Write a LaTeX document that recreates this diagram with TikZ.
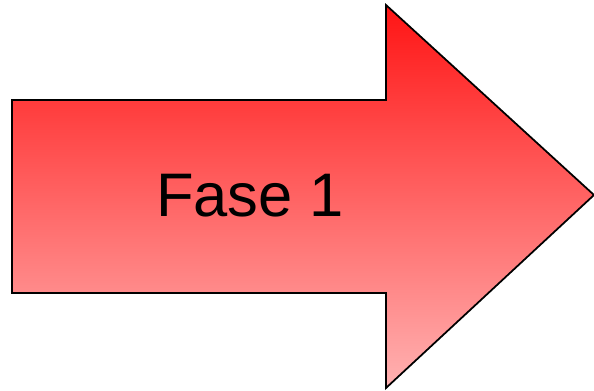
\documentclass[tikz,border=0pt]{standalone}
\usepackage{fontspec}
\setmainfont{Liberation Sans}
\usetikzlibrary{positioning}
\definecolor{arrowtop}{RGB}{255,20,20}
\definecolor{arrowbottom}{RGB}{255,178,178}
\tikzset{
  bigarrow/.style={draw=black, line width=1pt, top color=arrowtop, bottom color=arrowbottom},
  phase/.style={font=\fontsize{35}{40}\selectfont, text=black}
}

\begin{document}
\begin{tikzpicture}[x=0.02cm, y=0.02cm]
  % Canvas
  \useasboundingbox (0,0) rectangle (594,390);

  % Arrow shape
  \path[bigarrow] (12,97) -- (386,97) -- (386,2) -- (594,195) -- (386,385) -- (386,290) -- (12,290) -- cycle;

  % Label
  \node[phase] (fase) at (250,194) {Fase 1};
\end{tikzpicture}
\end{document}
